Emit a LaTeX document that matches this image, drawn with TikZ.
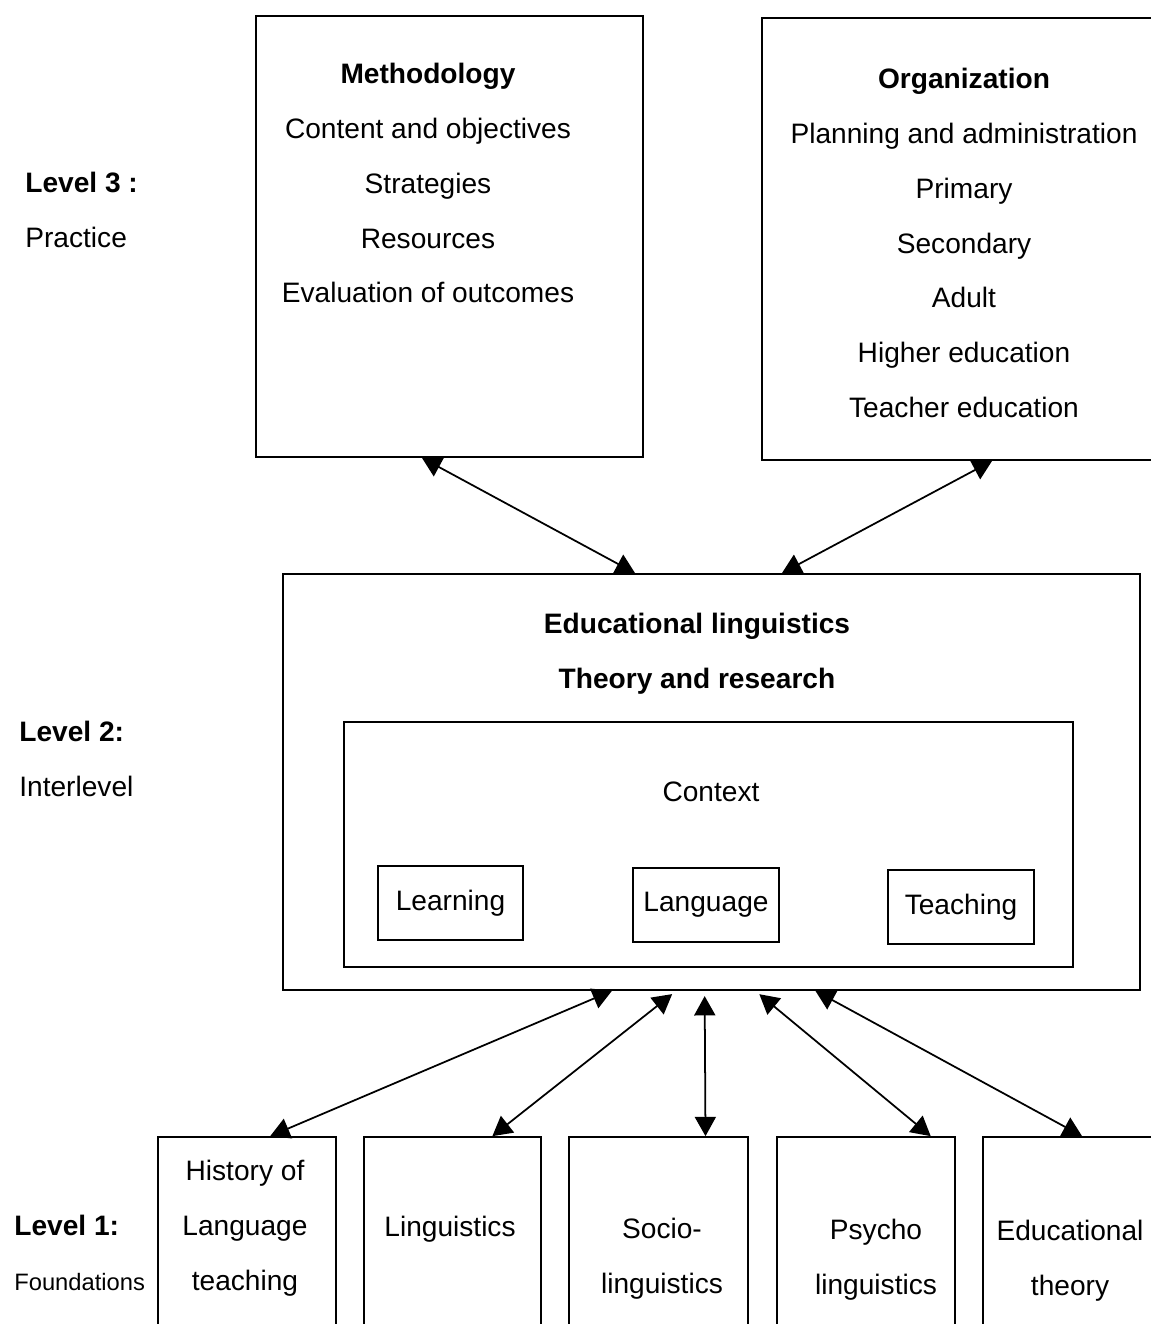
\documentclass[tikz,border=0pt]{standalone}
\usepackage{fontspec}
\setmainfont{Liberation Sans}
\usetikzlibrary{arrows.meta,calc}

\begin{document}
\begin{tikzpicture}
		[x=0.02cm,y=-0.02cm,font=\fontsize{16}{31.2}\selectfont,
		box/.style={draw,line width=1pt,inner sep=0pt},
		txt/.style={align=center,inner sep=0pt,anchor=north},
		lvl/.style={align=left,inner sep=0pt,anchor=north west},
		conn/.style={{Triangle[length=11pt,width=12pt]}-{Triangle[length=11pt,width=12pt]},line width=1pt}]
		\useasboundingbox (0,0) rectangle (1151,1324);
		\clip (0,0) rectangle (1151,1324);
		% level 3
		\node[box,minimum width=7.74cm,minimum height=8.82cm] (meth) at (449.5,236.5) {};
		\node[box,minimum width=8cm,minimum height=8.84cm] (org) at (962,239) {};
		\node[txt] (methtxt) at (428,63) {\textbf{Methodology}\\Content and objectives\\Strategies\\Resources\\Evaluation of outcomes};
		\node[txt] (orgtxt) at (964,68) {\textbf{Organization}\\Planning and administration\\Primary\\Secondary\\Adult\\Higher education\\Teacher education};
		% level 2
		\node[box,minimum width=17.14cm,minimum height=8.32cm] (lvtwo) at (711.5,782) {};
		\node[txt,font=\fontsize{16}{31.2}\selectfont\bfseries] (eltxt) at (697,613) {Educational linguistics\\Theory and research};
		\node[box,minimum width=14.58cm,minimum height=4.9cm] (ctx) at (708.5,844.5) {};
		\node[txt] (ctxtxt) at (711,782) {Context};
		\node[box,minimum width=2.9cm,minimum height=1.48cm] (learn) at (450.5,903) {Learning};
		\node[box,minimum width=2.92cm,minimum height=1.48cm] (lang) at (706,905) {Language};
		\node[box,minimum width=2.92cm,minimum height=1.48cm] (teach) at (961,907) {Teaching};
		% level 1
		\node[box,minimum width=3.56cm,minimum height=4.16cm] (hist) at (247,1241) {};
		\node[box,minimum width=3.54cm,minimum height=4.16cm] (ling) at (452.5,1241) {};
		\node[box,minimum width=3.58cm,minimum height=4.16cm] (socio) at (658.5,1241) {};
		\node[box,minimum width=3.56cm,minimum height=4.16cm] (psych) at (866,1241) {};
		\node[box,minimum width=3.56cm,minimum height=4.16cm] (edu) at (1072,1241) {};
		\node[txt] (histtxt) at (245,1160) {History of\\Language\\teaching};
		\node[txt] (lingtxt) at (450,1216) {Linguistics};
		\node[txt] (sociotxt) at (662,1218) {Socio-\\linguistics};
		\node[txt] (psychtxt) at (876,1219) {Psycho\\linguistics};
		\node[txt] (edutxt) at (1070,1220) {Educational\\theory};
		% level labels
		\node[lvl] (lvthree) at (25,172) {\textbf{Level 3 :}\\Practice};
		\node[lvl] (lvtwolbl) at (19,721) {\textbf{Level 2:}\\Interlevel};
		\node[lvl] (lvone) at (14,1215) {\textbf{Level 1:}\\{\fontsize{13.5}{31.2}\selectfont Foundations}};
		\path[conn]
		($(meth.south west)!0.429!(meth.south east)$) edge ($(lvtwo.north west)!0.411!(lvtwo.north east)$)
		($(org.south west)!0.575!(org.south east)$) edge ($(lvtwo.north west)!0.582!(lvtwo.north east)$)
		($(lvtwo.south west)!0.384!(lvtwo.south east)$) edge ($(hist.north west)!0.629!(hist.north east)$)
		($(lvtwo.south west)!0.459!(lvtwo.south east)$) edge [shorten <=3pt] ($(ling.north west)!0.723!(ling.north east)$)
		($(lvtwo.south west)!0.492!(lvtwo.south east)$) edge [shorten <=3pt] ($(socio.north west)!0.76!(socio.north east)$)
		($(lvtwo.south west)!0.551!(lvtwo.south east)$) edge [shorten <=3pt] ($(psych.north west)!0.86!(psych.north east)$)
		($(lvtwo.south west)!0.621!(lvtwo.south east)$) edge ($(edu.north west)!0.556!(edu.north east)$)
		;
\end{tikzpicture}
\end{document}
